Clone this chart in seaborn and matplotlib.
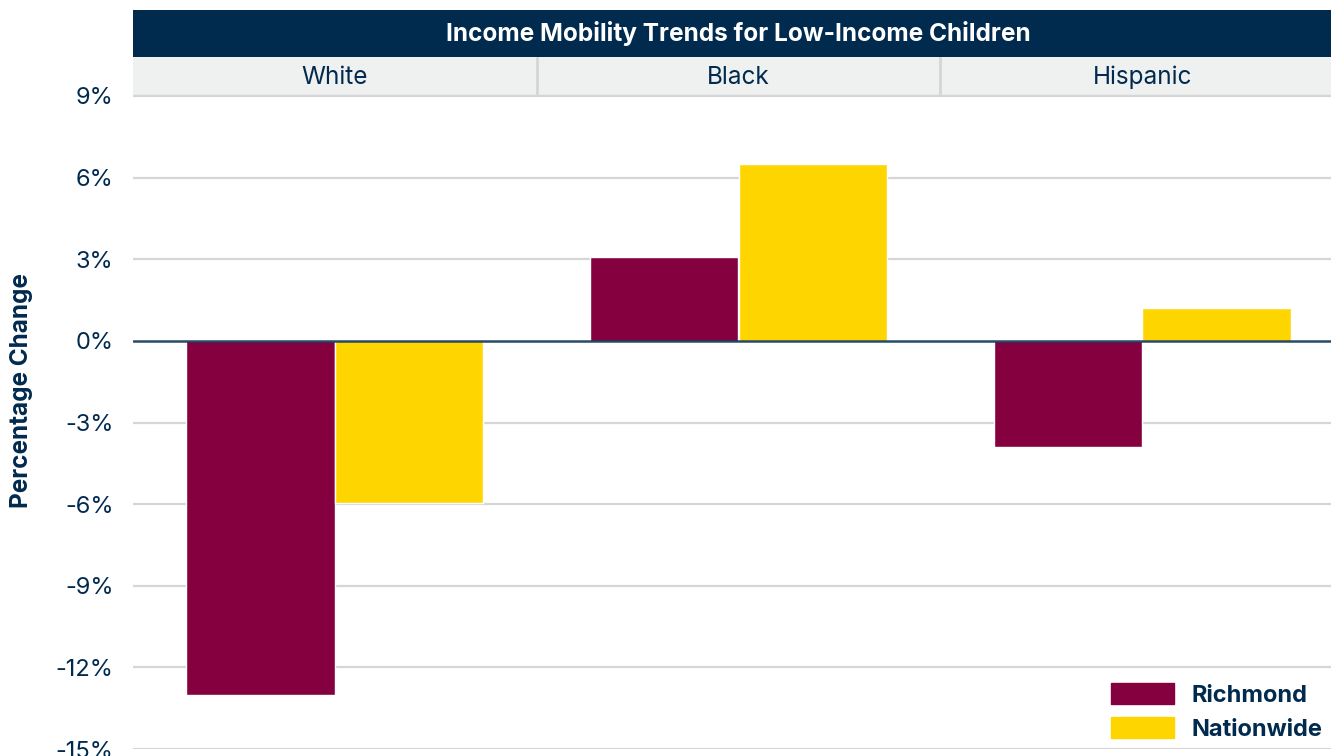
import pandas as pd
import seaborn as sns
import matplotlib.pyplot as plt
from matplotlib.ticker import FuncFormatter
from matplotlib.patches import Patch

groups = ["White", "Black", "Hispanic"]
places = ["Richmond", "Nationwide"]
richmond = [-13.0, 3.07, -3.9]
nationwide = [-5.95, 6.5, 1.2]
yticks = [-15, -12, -9, -6, -3, 0, 3, 6, 9]

NAVY = "#012A4F"
MAROON = "#85003F"
GOLD = "#FFD500"
GRID = "#D6D6D6"

df = pd.DataFrame({
    "group": groups * 2,
    "place": [places[0]] * 3 + [places[1]] * 3,
    "value": richmond + nationwide,
})

sns.set_theme(style="white")
plt.rcParams["font.family"] = ["Inter", "DejaVu Sans"]

fig = plt.figure(figsize=(13.31, 7.56), dpi=100)
W, H = 1331, 756
AXW = (1344 - 133) / W  # right facet runs past the image edge, as in the source

# main plot area
ax = fig.add_axes([133 / W, (H - 749) / H, AXW, (749 - 96) / H])
sns.barplot(data=df, x="group", y="value", hue="place", order=groups,
            hue_order=places, palette=[MAROON, GOLD], width=0.735,
            saturation=1, ax=ax, legend=False, zorder=2)
ax.set_xlim(-0.5, 2.5)
ax.set_ylim(-15, 9)
ax.set_yticks(yticks)
ax.yaxis.set_major_formatter(FuncFormatter(lambda v, p: f"{v:.0f}%"))
ax.tick_params(axis="y", labelsize=17, labelcolor=NAVY, length=0, pad=14)
ax.set_xticks([])
ax.set_xlabel("")
ax.set_ylabel("Percentage Change", fontsize=17.5, fontweight="bold", color=NAVY)
ax.yaxis.set_label_coords(-100 / (1344 - 133), (749 - 391) / (749 - 96))
for y in yticks:
    if y != 0:
        ax.axhline(y, color=GRID, lw=1.6, zorder=0)
ax.axhline(0, color=NAVY, lw=1.8, alpha=0.85, zorder=3)
for s in ax.spines.values():
    s.set_visible(False)

# title banner
banner = fig.add_axes([133 / W, (H - 57) / H, AXW, 47 / H])
banner.set_facecolor(NAVY)
banner.set_xticks([]); banner.set_yticks([])
for s in banner.spines.values():
    s.set_visible(False)
banner.text(0.5, 0.5, "Income Mobility Trends for Low-Income Children",
            color="white", fontsize=17.6, fontweight="bold", ha="center", va="center")

# facet strips
strip = fig.add_axes([133 / W, (H - 96) / H, AXW, 39 / H])
strip.set_facecolor("#EFF0F0")
strip.set_xlim(-0.5, 2.5)
strip.set_ylim(0, 1)
strip.set_xticks([]); strip.set_yticks([])
for s in strip.spines.values():
    s.set_visible(False)
for i, g in enumerate(groups):
    strip.text(i, 0.48, g, color=NAVY, fontsize=17.5, ha="center", va="center")
for xb in [0.5, 1.5]:
    strip.axvline(xb, color=GRID, lw=2)
strip.axhline(0, color=GRID, lw=2.5)

# legend
handles = [Patch(color=MAROON), Patch(color=GOLD)]
leg = fig.legend(handles, places, loc="upper left",
                 bbox_to_anchor=(1102 / W, 1 - 674 / H), frameon=False,
                 handlelength=2.65, handleheight=0.95, handletextpad=0.75,
                 labelspacing=0.45, borderaxespad=0,
                 prop={"size": 17, "weight": "bold"})
for t in leg.get_texts():
    t.set_color(NAVY)

fig.savefig("out.png", dpi=100)
